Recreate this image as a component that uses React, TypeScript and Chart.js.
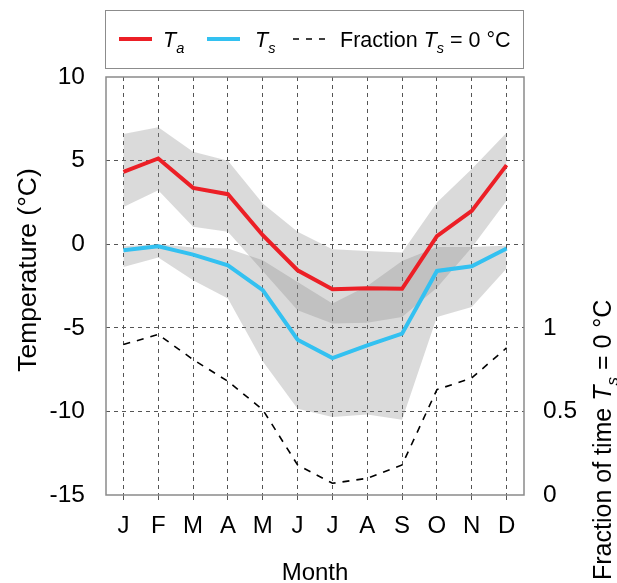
import React, { useEffect, useRef } from "react";
import { Chart, registerables } from "chart.js";

Chart.register(...registerables);

const months = ["J", "F", "M", "A", "M", "J", "J", "A", "S", "O", "N", "D"];
const taMean = [4.33, 5.13, 3.37, 2.99, 0.54, -1.56, -2.69, -2.63, -2.67, 0.48, 1.99, 4.73];
const taUpper = [6.59, 6.99, 5.53, 4.99, 2.44, 0.75, -0.3, -0.4, -0.5, 2.5, 4.5, 6.67];
const taLower = [2.23, 3.23, 1.05, 0.75, -1.6, -3.95, -4.75, -4.7, -4.35, -2.6, -0.2, 2.6];
const tsMean = [-0.36, -0.12, -0.62, -1.26, -2.75, -5.71, -6.81, -6.05, -5.35, -1.6, -1.32, -0.26];
const tsUpper = [-0.12, 0.0, -0.2, -0.26, -0.96, -2.26, -3.55, -2.5, -1.0, -0.16, -0.16, -0.1];
const tsLower = [-1.36, -0.8, -2.15, -3.25, -7.0, -9.84, -10.34, -10.18, -10.5, -4.35, -3.75, -1.45];
const fraction = [0.9, 0.96, 0.81, 0.68, 0.51, 0.18, 0.07, 0.1, 0.18, 0.63, 0.7, 0.88];
const tempTicks = [10, 5, 0, -5, -10, -15];
const fracTicks = [0, 0.5, 1];

const FAMILY = "'Liberation Sans', Arial, sans-serif";
const RED = "#ec1f26";
const BLUE = "#33c1f1";
const BAND = "rgba(140,140,140,0.32)";
const GRID = "#555555";

type Part = { t: string; it?: boolean; sub?: boolean };

function drawRich(ctx: CanvasRenderingContext2D, parts: Part[], x: number, y: number, size: number) {
  let cx = x;
  for (const p of parts) {
    const s = p.sub ? size * 0.68 : size;
    ctx.font = `${p.it ? "italic " : ""}${s}px ${FAMILY}`;
    ctx.fillText(p.t, cx, y + (p.sub ? size * 0.26 : 0));
    cx += ctx.measureText(p.t).width;
  }
  return cx;
}

const decorPlugin = {
  id: "decor",
  afterDraw(chart: any) {
    const ctx: CanvasRenderingContext2D = chart.ctx;
    const a = chart.chartArea;
    ctx.save();
    // frame
    ctx.strokeStyle = "#8a8a8a";
    ctx.lineWidth = 1.5;
    ctx.setLineDash([]);
    ctx.strokeRect(a.left, a.top, a.right - a.left, a.bottom - a.top);

    // legend box
    ctx.strokeStyle = "#8c8c8c";
    ctx.lineWidth = 1;
    ctx.strokeRect(105.5, 10.5, 418, 58);
    const ly = 39;
    ctx.lineWidth = 4;
    ctx.strokeStyle = RED;
    ctx.beginPath();
    ctx.moveTo(119, ly);
    ctx.lineTo(152, ly);
    ctx.stroke();
    ctx.strokeStyle = BLUE;
    ctx.beginPath();
    ctx.moveTo(207, ly);
    ctx.lineTo(240, ly);
    ctx.stroke();
    ctx.strokeStyle = "#000";
    ctx.lineWidth = 1.5;
    ctx.setLineDash([6, 7]);
    ctx.beginPath();
    ctx.moveTo(293, ly);
    ctx.lineTo(328, ly);
    ctx.stroke();
    ctx.setLineDash([]);
    ctx.fillStyle = "#000";
    ctx.textBaseline = "alphabetic";
    ctx.textAlign = "left";
    const lsz = 21.5;
    const lb = ly + 8;
    drawRich(ctx, [{ t: "T", it: true }, { t: "a", it: true, sub: true }], 163, lb, lsz);
    drawRich(ctx, [{ t: "T", it: true }, { t: "s", it: true, sub: true }], 255, lb, lsz);
    drawRich(
      ctx,
      [{ t: "Fraction " }, { t: "T", it: true }, { t: "s", it: true, sub: true }, { t: " = 0 °C" }],
      340,
      lb,
      lsz
    );

    // x title
    ctx.font = `24px ${FAMILY}`;
    ctx.textAlign = "center";
    ctx.fillText("Month", (a.left + a.right) / 2, 580);

    // left title
    ctx.save();
    ctx.translate(36, 270);
    ctx.rotate(-Math.PI / 2);
    ctx.font = `26.5px ${FAMILY}`;
    ctx.textAlign = "center";
    ctx.fillText("Temperature (°C)", 0, 0);
    ctx.restore();

    // right title
    ctx.save();
    ctx.translate(611, 580);
    ctx.rotate(-Math.PI / 2);
    ctx.textAlign = "left";
    drawRich(
      ctx,
      [{ t: "Fraction of time " }, { t: "T", it: true }, { t: "s", it: true, sub: true }, { t: " = 0 °C" }],
      0,
      0,
      25
    );
    ctx.restore();
    ctx.restore();
  },
};

export default function App() {
  const ref = useRef<HTMLCanvasElement | null>(null);
  useEffect(() => {
    if (!ref.current) return;
    Chart.defaults.font.family = FAMILY;
    const bandDs = (data: number[], fill: any, order: number) => ({
      data,
      fill,
      backgroundColor: BAND,
      borderColor: "rgba(0,0,0,0)",
      borderWidth: 0,
      pointRadius: 0,
      tension: 0,
      yAxisID: "y",
      order,
    });
    const chart = new Chart(ref.current, {
      type: "line",
      data: {
        labels: months,
        datasets: [
          { label: "Ta", data: taMean, borderColor: RED, borderWidth: 4, pointRadius: 0, fill: false, yAxisID: "y", order: 1 },
          { label: "Ts", data: tsMean, borderColor: BLUE, borderWidth: 4, pointRadius: 0, fill: false, yAxisID: "y", order: 2 },
          {
            label: "Fraction",
            data: fraction,
            borderColor: "#000",
            borderWidth: 1.6,
            borderDash: [7, 7],
            pointRadius: 0,
            fill: false,
            yAxisID: "y2",
            order: 3,
          },
          bandDs(taUpper, "+1", 4),
          bandDs(taLower, false, 5),
          bandDs(tsUpper, "+1", 6),
          bandDs(tsLower, false, 7),
        ] as any,
      },
      options: {
        animation: false,
        responsive: false,
        devicePixelRatio: 1,
        layout: { padding: { top: 77, left: 0, right: 0, bottom: 0 } },
        plugins: { legend: { display: false }, tooltip: { enabled: false } },
        scales: {
          x: {
            type: "category",
            offset: true,
            grid: {
              offset: false,
              color: GRID,
              lineWidth: 1,
              drawTicks: true,
              tickLength: 8,
              tickColor: GRID,
              tickBorderDash: [5, 4],
            } as any,
            border: { display: false, dash: [4, 4] },
            ticks: { color: "#000", font: { size: 24 }, padding: 9, maxRotation: 0, autoSkip: false },
            afterFit: (s: any) => {
              s.height = 88;
            },
          },
          y: {
            position: "left",
            min: -15,
            max: 10,
            afterBuildTicks: (s: any) => {
              s.ticks = tempTicks.map((v) => ({ value: v }));
            },
            grid: {
              color: (c: any) =>
                c.tick && (c.tick.value === 10 || c.tick.value === -15) ? "rgba(0,0,0,0)" : GRID,
              lineWidth: 1,
              drawTicks: false,
            },
            border: { display: false, dash: [4, 4] },
            ticks: { color: "#000", font: { size: 24.5 }, padding: 21, callback: (v: any) => String(v) },
            afterFit: (s: any) => {
              s.width = 106;
            },
          },
          y2: {
            position: "right",
            min: 0,
            max: 2.5,
            afterBuildTicks: (s: any) => {
              s.ticks = fracTicks.map((v) => ({ value: v }));
            },
            grid: { display: false, drawTicks: false },
            border: { display: false },
            ticks: { color: "#000", font: { size: 24.5 }, padding: 19, callback: (v: any) => String(v) },
            afterFit: (s: any) => {
              s.width = 93;
            },
          },
        },
      },
      plugins: [decorPlugin],
    });
    return () => chart.destroy();
  }, []);
  return (
    <div style={{ position: "fixed", left: 0, top: 0, width: 617, height: 583, background: "#fff" }}>
      <canvas ref={ref} width={617} height={583} style={{ display: "block", width: 617, height: 583 }} />
    </div>
  );
}
